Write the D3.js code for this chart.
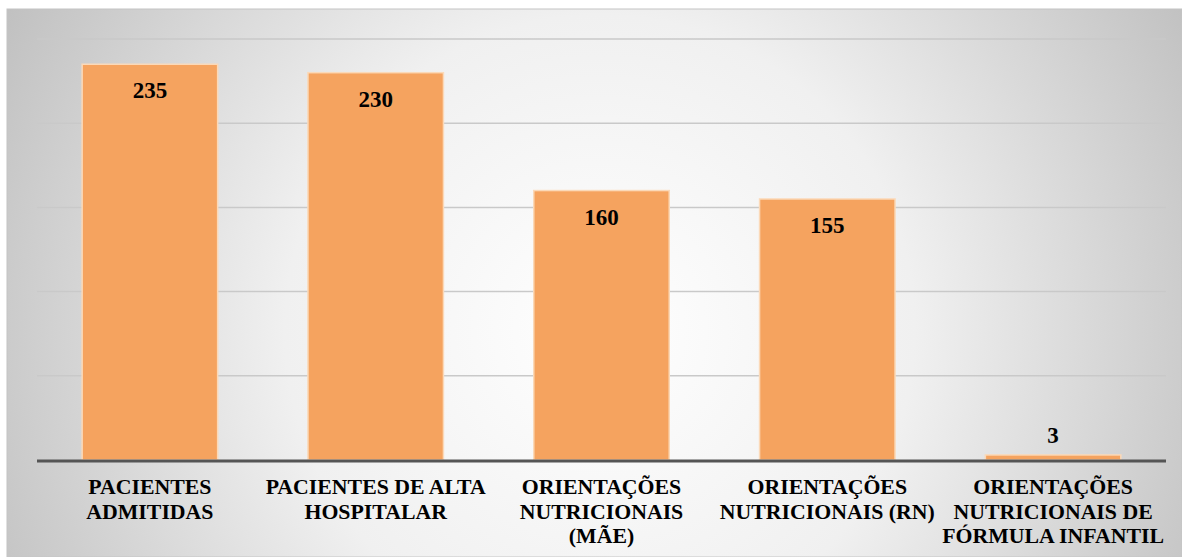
<!DOCTYPE html>
<html>
<head>
<meta charset="utf-8">
<script src="https://cdn.jsdelivr.net/npm/d3@7"></script>
<style>
  html, body { margin: 0; padding: 0; background: #ffffff; }
  svg { display: block; }
</style>
</head>
<body>
<div id="chart"></div>
<script>
const categories = [
    'PACIENTES ADMITIDAS',
    'PACIENTES DE ALTA HOSPITALAR',
    'ORIENTAÇÕES NUTRICIONAIS (MÃE)',
    'ORIENTAÇÕES NUTRICIONAIS (RN)',
    'ORIENTAÇÕES NUTRICIONAIS DE FÓRMULA INFANTIL'
];
const tickLines = [
    ['PACIENTES', 'ADMITIDAS'],
    ['PACIENTES DE ALTA', 'HOSPITALAR'],
    ['ORIENTAÇÕES', 'NUTRICIONAIS', '(MÃE)'],
    ['ORIENTAÇÕES', 'NUTRICIONAIS (RN)'],
    ['ORIENTAÇÕES', 'NUTRICIONAIS DE', 'FÓRMULA INFANTIL']
];
const values = [235, 230, 160, 155, 3];
const gridTicks = [0, 50, 100, 150, 200, 250];

const W = 1182, H = 557;
const plot = { left: 37, right: 1166, top: 39, bottom: 460 };
const serif = "'Liberation Serif'";

const svg = d3.select('#chart').append('svg')
    .attr('width', W)
    .attr('height', H);

const defs = svg.append('defs');
const grad = defs.append('radialGradient')
    .attr('id', 'bg')
    .attr('gradientUnits', 'userSpaceOnUse')
    .attr('cx', 600).attr('cy', 330).attr('r', 700)
    .attr('fx', 600).attr('fy', 330);
grad.append('stop').attr('offset', '0%').attr('stop-color', '#ffffff');
grad.append('stop').attr('offset', '45%').attr('stop-color', '#f0f0f0');
grad.append('stop').attr('offset', '100%').attr('stop-color', '#bdbdbd');

svg.append('rect')
    .attr('x', 7).attr('y', 9)
    .attr('width', W - 7).attr('height', H - 9)
    .style('fill', 'url(#bg)')
    .style('stroke', '#c4c4c4')
    .style('stroke-width', 1);

const x = d3.scaleBand()
    .domain(categories)
    .range([plot.left, plot.right])
    .paddingInner(0.4)
    .paddingOuter(0.2);

const y = d3.scaleLinear()
    .domain([0, 250])
    .range([plot.bottom, plot.top]);

// gridlines
svg.append('g')
    .selectAll('line')
    .data(gridTicks.slice(1))
    .enter()
    .append('line')
        .attr('x1', plot.left)
        .attr('x2', plot.right)
        .attr('y1', d => y(d))
        .attr('y2', d => y(d))
        .style('stroke', '#c9c9c9')
        .style('stroke-width', 1.5);

// bars
svg.append('g')
    .selectAll('rect')
    .data(values)
    .enter()
    .append('rect')
        .attr('x', (d, i) => x(categories[i]))
        .attr('y', d => y(d))
        .attr('width', x.bandwidth())
        .attr('height', d => y(0) - y(d))
        .style('fill', '#f5a35f')
        .style('stroke', '#fbd9b8')
        .style('stroke-width', 1.5);

// baseline
svg.append('line')
    .attr('x1', plot.left)
    .attr('x2', plot.right)
    .attr('y1', y(0) + 1)
    .attr('y2', y(0) + 1)
    .style('stroke', '#555555')
    .style('stroke-width', 3);

// value labels
svg.append('g')
    .selectAll('text')
    .data(values)
    .enter()
    .append('text')
        .attr('x', (d, i) => x(categories[i]) + x.bandwidth() / 2)
        .attr('y', d => d > 20 ? y(d) + 34 : y(d) - 12)
        .attr('text-anchor', 'middle')
        .style('font-family', serif)
        .style('font-weight', 'bold')
        .style('font-size', '23px')
        .style('fill', '#000000')
        .text(d => d);

// category labels
const labels = svg.append('g')
    .selectAll('text')
    .data(categories)
    .enter()
    .append('text')
        .attr('text-anchor', 'middle')
        .style('font-family', serif)
        .style('font-weight', 'bold')
        .style('font-size', '21.8px')
        .style('fill', '#000000');

labels.each(function(c, i) {
    const t = d3.select(this);
    const cx = x(c) + x.bandwidth() / 2;
    tickLines[i].forEach((line, j) => {
        t.append('tspan')
            .attr('x', cx)
            .attr('y', 494 + j * 24.5)
            .text(line);
    });
});
</script>
</body>
</html>
